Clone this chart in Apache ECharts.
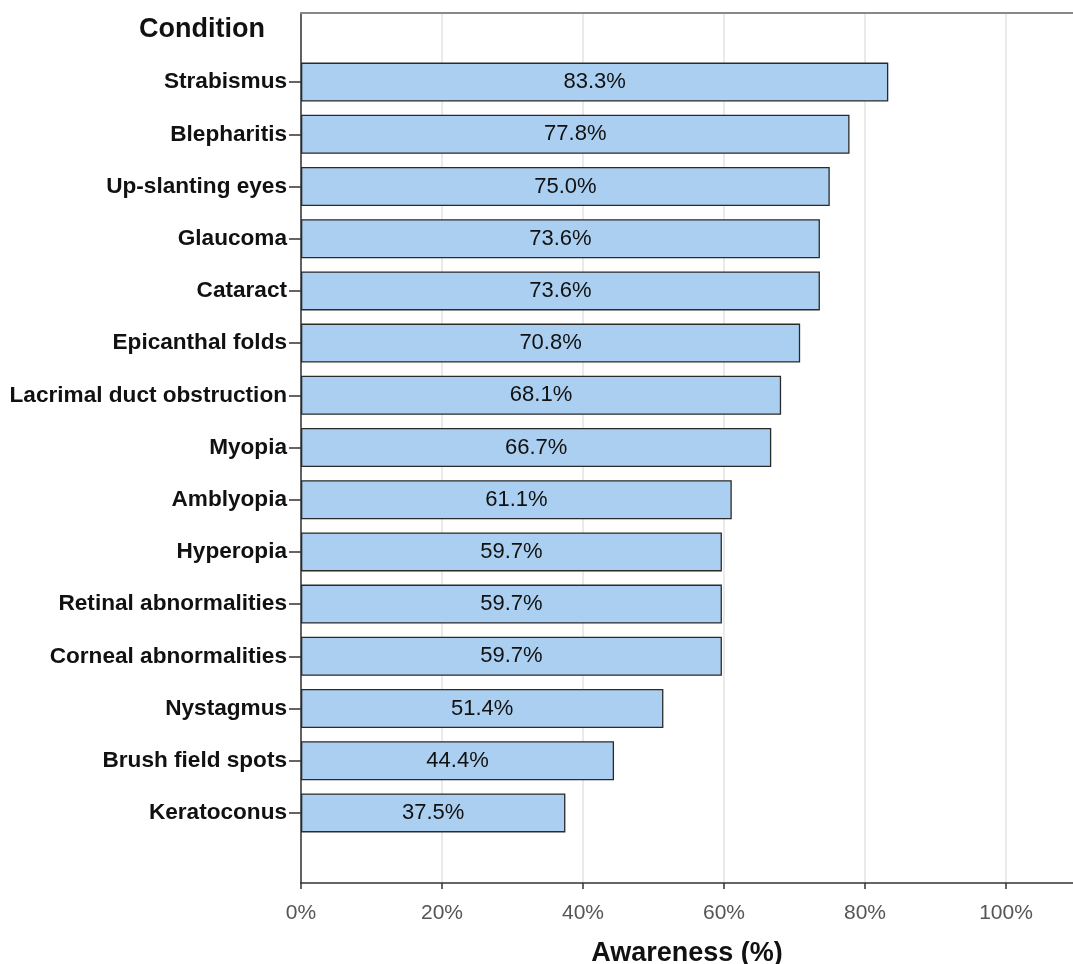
<!DOCTYPE html>
<html>
<head>
<meta charset="utf-8">
<script src="https://cdn.jsdelivr.net/npm/echarts@6/dist/echarts.min.js"></script>
<style>html,body{margin:0;padding:0;background:#fff;}#c{width:1073px;height:964px;}</style>
</head>
<body>
<div id="c"></div>
<script>
const categories = ["Strabismus","Blepharitis","Up-slanting eyes","Glaucoma","Cataract","Epicanthal folds","Lacrimal duct obstruction","Myopia","Amblyopia","Hyperopia","Retinal abnormalities","Corneal abnormalities","Nystagmus","Brush field spots","Keratoconus"];
const awareness = [83.3,77.8,75.0,73.6,73.6,70.8,68.1,66.7,61.1,59.7,59.7,59.7,51.4,44.4,37.5];
const xTicks = [0,20,40,60,80,100];

const FONT = "'Liberation Sans', Arial, sans-serif";
const chart = echarts.init(document.getElementById('c'));
chart.setOption({
  animation: false,
  backgroundColor: '#fff',
  textStyle: { fontFamily: FONT },
  title: {
    text: 'Condition', left: 134, top: 11,
    textStyle: { fontFamily: FONT, fontSize: 27, fontWeight: 'bold', color: '#111' }
  },
  grid: [
    { left: 301, right: 0, top: 13, bottom: 81, containLabel: false, outerBoundsMode: 'none' },
    { left: 301, right: 0, top: 56, bottom: 125, containLabel: false, outerBoundsMode: 'none' }
  ],
  xAxis: [
    {
      gridIndex: 0, type: 'value', min: 0, max: 109.5, interval: 20, position: 'bottom',
      axisLine: { show: true, lineStyle: { color: '#333', width: 1.5 } },
      axisTick: { show: true, length: 6, lineStyle: { color: '#333', width: 1.5 },
        customValues: xTicks },
      axisLabel: { customValues: xTicks, formatter: '{value}%', fontSize: 21, color: '#555', margin: 20, fontFamily: FONT },
      splitLine: { show: true, lineStyle: { color: '#e3e3e3', width: 1.5 } },
      name: 'Awareness (%)', nameLocation: 'middle', nameGap: 57,
      nameTextStyle: { fontSize: 27, fontWeight: 'bold', color: '#111', fontFamily: FONT }
    },
    {
      gridIndex: 0, type: 'value', min: 0, max: 109.5, position: 'top',
      axisLine: { show: true, lineStyle: { color: '#888', width: 2 } },
      axisTick: { show: false }, axisLabel: { show: false }, splitLine: { show: false }
    },
    {
      gridIndex: 1, type: 'value', min: 0, max: 109.5, show: false
    }
  ],
  yAxis: [
    {
      gridIndex: 0, type: 'value', min: 0, max: 1,
      axisLine: { show: true, onZero: false, lineStyle: { color: '#333', width: 1.5 } },
      axisTick: { show: false }, axisLabel: { show: false }, splitLine: { show: false }
    },
    {
      gridIndex: 1, type: 'category', data: categories, inverse: true,
      axisLine: { show: false },
      axisTick: { show: true, alignWithLabel: true, length: 12, lineStyle: { color: '#333', width: 1.5 } },
      axisLabel: { fontSize: 22.6, fontWeight: 'bold', color: '#111', margin: 14, fontFamily: FONT }
    }
  ],
  series: [{
    type: 'bar', xAxisIndex: 2, yAxisIndex: 1, data: awareness, barWidth: 39,
    itemStyle: { color: '#aacff0', borderColor: '#2a2a2a', borderWidth: 1.3 },
    label: { show: true, position: 'inside', formatter: p => p.value.toFixed(1) + '%',
      fontSize: 22, color: '#111', fontFamily: FONT }
  }]
});
</script>
</body>
</html>
